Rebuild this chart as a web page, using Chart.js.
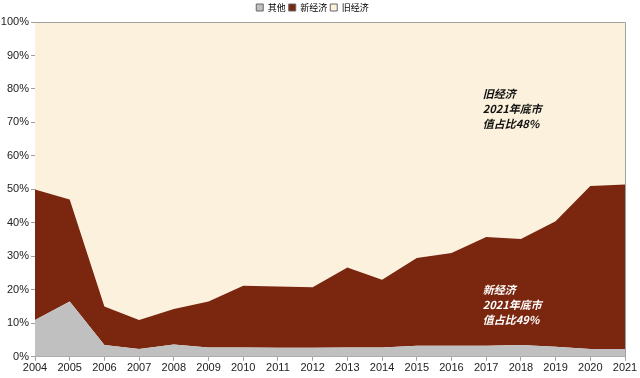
<!DOCTYPE html>
<html lang="zh">
<head>
    <meta charset="UTF-8">
    <title>新经济与旧经济市值占比</title>
    <script src="https://cdn.jsdelivr.net/npm/chart.js"></script>
    <style>
        html, body { margin: 0; padding: 0; background: #fff; }
        #wrap { width: 640px; height: 378px; }
    </style>
</head>
<body>
    <div id="wrap"><canvas id="areaChart"></canvas></div>

    <script>
        // Data (percent of market cap)
        const years = ['2004', '2005', '2006', '2007', '2008', '2009', '2010', '2011', '2012',
                       '2013', '2014', '2015', '2016', '2017', '2018', '2019', '2020', '2021'];
        const otherShare = [11, 16.5, 3.5, 2.3, 3.7, 2.8, 2.8, 2.7, 2.7,
                            2.8, 2.8, 3.3, 3.3, 3.3, 3.5, 3.0, 2.3, 2.3];
        const newEconShare = [39, 30.5, 11.5, 8.7, 10.6, 13.7, 18.4, 18.3, 18.1,
                              23.9, 20.2, 26.2, 27.7, 32.5, 31.7, 37.5, 48.7, 49.2];
        const oldEconShare = [50, 53, 85, 89, 85.7, 83.5, 78.8, 79, 79.2,
                              73.3, 77, 70.5, 69, 64.2, 64.8, 59.5, 49, 48.5];
        const yTicks = [0, 10, 20, 30, 40, 50, 60, 70, 80, 90, 100];

        const axisColor = '#a0a0a0';
        const labelFont = { family: 'Liberation Sans, Arial, sans-serif', size: 11 };

        // Frame around the plot area + the two notes
        const framePlugin = {
            id: 'frame',
            afterDatasetsDraw(chart) {
                const { ctx, chartArea: a, scales } = chart;
                ctx.save();
                ctx.strokeStyle = axisColor;
                ctx.lineWidth = 1;
                ctx.beginPath();
                ctx.moveTo(a.left, a.top + 0.5);
                ctx.lineTo(a.right + 0.5, a.top + 0.5);
                ctx.lineTo(a.right + 0.5, a.bottom);
                ctx.stroke();

                ctx.font = 'italic bold 11px "Noto Sans CJK SC", sans-serif';
                ctx.textBaseline = 'middle';
                const x = scales.x.getPixelForValue(12.9);
                const oldLines = ['旧经济', '2021年底市', '值占比48%'];
                const newLines = ['新经济', '2021年底市', '值占比49%'];
                ctx.fillStyle = '#111';
                oldLines.forEach((t, i) => ctx.fillText(t, x, scales.y.getPixelForValue(78.5 - i * 4.5)));
                ctx.fillStyle = '#fff';
                newLines.forEach((t, i) => ctx.fillText(t, x, scales.y.getPixelForValue(20 - i * 4.5)));
                ctx.restore();
            }
        };

        const ctx = document.getElementById('areaChart').getContext('2d');
        new Chart(ctx, {
            type: 'line',
            data: {
                labels: years,
                datasets: [
                    { label: '其他', data: otherShare, backgroundColor: '#c0c0c0', fill: 'origin' },
                    { label: '新经济', data: newEconShare, backgroundColor: '#7b260e', fill: '-1' },
                    { label: '旧经济', data: oldEconShare, backgroundColor: '#fbf1dc', fill: '-1' }
                ]
            },
            options: {
                responsive: true,
                maintainAspectRatio: false,
                animation: false,
                elements: {
                    line: { borderWidth: 0, tension: 0 },
                    point: { radius: 0, hoverRadius: 0 }
                },
                layout: { padding: { left: 0, right: 15, top: 0, bottom: 2 } },
                plugins: {
                    tooltip: { enabled: false },
                    legend: {
                        position: 'top',
                        labels: {
                            boxWidth: 7,
                            boxHeight: 7,
                            padding: 3,
                            color: '#333',
                            font: { family: '"Noto Sans CJK SC", sans-serif', size: 9 },
                            generateLabels(chart) {
                                return chart.data.datasets.map((ds, i) => ({
                                    text: ds.label,
                                    fillStyle: ds.backgroundColor,
                                    strokeStyle: '#666',
                                    lineWidth: 1,
                                    hidden: false,
                                    datasetIndex: i
                                }));
                            }
                        }
                    }
                },
                scales: {
                    x: {
                        offset: false,
                        grid: { display: true, drawOnChartArea: false, tickLength: 4, color: axisColor },
                        border: { color: axisColor },
                        ticks: { color: '#222', font: labelFont, maxRotation: 0, autoSkip: false, padding: 1 }
                    },
                    y: {
                        stacked: true,
                        min: 0,
                        max: 100,
                        afterBuildTicks(axis) { axis.ticks = yTicks.map(v => ({ value: v })); },
                        afterFit(axis) { axis.width = 35; },
                        grid: { display: true, drawOnChartArea: false, tickLength: 4, color: axisColor },
                        border: { color: axisColor },
                        ticks: { color: '#222', font: labelFont, padding: 2, callback: v => v + '%' }
                    }
                }
            },
            plugins: [framePlugin]
        });
    </script>
</body>
</html>
